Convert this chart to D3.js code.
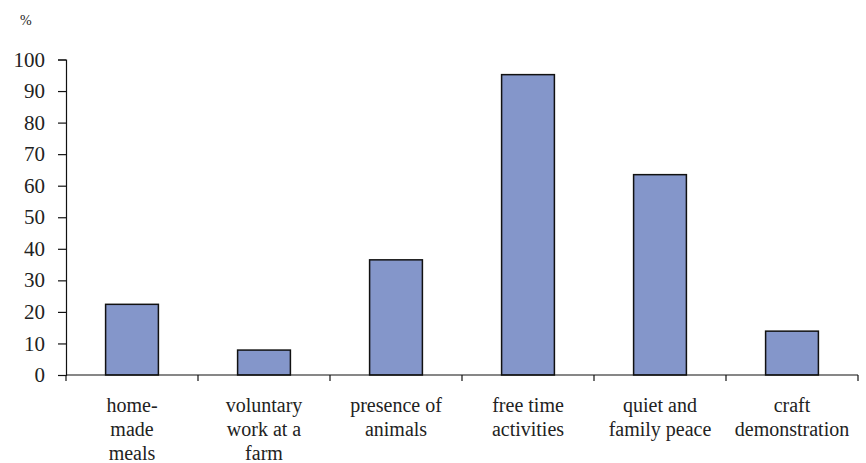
<!DOCTYPE html>
<html>
<head>
<meta charset="utf-8">
<script src="https://cdn.jsdelivr.net/npm/d3@7"></script>
<style>
  @font-face { font-family: "ChartSerif"; src: local("Liberation Serif"), local("LiberationSerif"), local("LiberationSerif-Regular"), local("Times New Roman"); }
</style>
</head>
<body style="margin:0">
<svg id="chart" width="866" height="463" font-family="Times New Roman"></svg>
<script>
// Share of respondents (%) naming each attraction
const categories = [
  ["home-", "made", "meals"],
  ["voluntary", "work at a", "farm"],
  ["presence of", "animals"],
  ["free time", "activities"],
  ["quiet and", "family peace"],
  ["craft", "demonstration"]
];
const values = [22.4, 7.9, 36.5, 95.2, 63.5, 13.9];
const yTicks = [0, 10, 20, 30, 40, 50, 60, 70, 80, 90, 100];

const ink = "#222";
const svg = d3.select("#chart");
const W = 866, H = 463;
const x0 = 66, x1 = W - 8;
const yTop = 59.5, yBottom = H - 88;

const idx = d3.range(values.length);
const x = d3.scaleBand().domain(idx).range([x0, x1]).paddingInner(0.6).paddingOuter(0.3);
const y = d3.scaleLinear().domain([0, 100]).range([yBottom, yTop]);

// Bars
svg.append("g").selectAll("rect").data(values).join("rect")
  .attr("x", (d, i) => x(i))
  .attr("y", d => y(d))
  .attr("width", x.bandwidth())
  .attr("height", d => y(0) - y(d))
  .attr("fill", "#8496ca")
  .attr("stroke", "#111")
  .attr("stroke-width", 1.5);

// Y axis: line and ticks from the scale, labels drawn as plain text
const yAxis = svg.append("g").attr("transform", `translate(${x0},0)`)
  .call(d3.axisLeft(y).tickValues(yTicks).tickSize(8).tickFormat(""));
yAxis.select(".domain").attr("stroke", "#111").attr("stroke-width", 1.2);
yAxis.selectAll(".tick line").attr("stroke", "#111").attr("stroke-width", 1.2);
svg.append("g").selectAll("text").data(yTicks).join("text")
  .attr("x", x0 - 21)
  .attr("y", d => y(d))
  .attr("dy", "0.34em")
  .attr("text-anchor", "end")
  .attr("font-family", "Times New Roman")
  .attr("font-size", 21)
  .attr("fill", ink)
  .text(d => d);

// X axis line with separator ticks between categories
const step = x.step();
const edges = d3.range(values.length + 1).map(i => x0 + i * step);
svg.append("line")
  .attr("x1", x0).attr("x2", x1).attr("y1", yBottom).attr("y2", yBottom)
  .attr("stroke", "#111").attr("stroke-width", 1.2);
svg.append("g").selectAll("line").data(edges).join("line")
  .attr("x1", d => d).attr("x2", d => d)
  .attr("y1", yBottom).attr("y2", yBottom + 6)
  .attr("stroke", "#111").attr("stroke-width", 1.2);

// Category labels, one text per line
const lines = categories.flatMap((c, i) => c.map((t, j) => ({ t, i, j })));
svg.append("g").selectAll("text").data(lines).join("text")
  .attr("text-anchor", "middle")
  .style("font-family", "Tinos")
  .style("font-size", "20px")
  .attr("fill", ink)
  .attr("x", d => x(d.i) + x.bandwidth() / 2)
  .attr("y", d => yBottom + 37 + d.j * 24)
  .text(d => d.t);

// Unit label
svg.append("text").attr("x", 20).attr("y", 25)
  .style("font-family", "ChartSerif").style("font-size", "14px").attr("fill", ink).text("%");
</script>
</body>
</html>
